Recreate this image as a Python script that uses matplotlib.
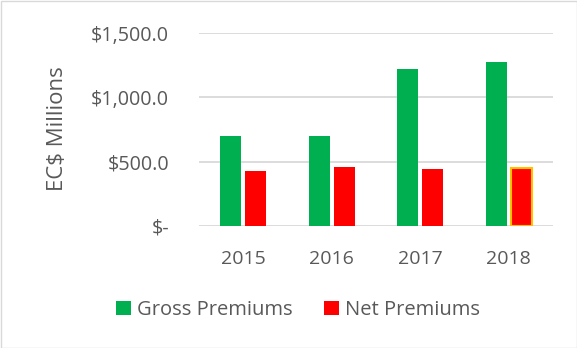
import matplotlib
matplotlib.use("Agg")
import matplotlib.pyplot as plt
from matplotlib.patches import Rectangle
import numpy as np

years = ["2015", "2016", "2017", "2018"]
gross_premiums = [699, 702, 1223, 1274]
net_premiums = [430, 461, 446, 454]
ytick_values = [0, 500, 1000, 1500]
ytick_labels = ["$-", "$500.0", "$1,000.0", "$1,500.0"]

text_color = "#595959"
plt.rcParams["font.family"] = ["Open Sans", "DejaVu Sans"]

fig = plt.figure(figsize=(5.77, 3.48), dpi=100)
ax = fig.add_axes([199 / 577, 1 - 226 / 348, 354 / 577, (226 - 33) / 348])

x = np.arange(len(years))
w = 0.242
gap = 0.04
ax.bar(x - (w + gap) / 2, gross_premiums, width=w, color="#00B050", zorder=3,
       label="Gross Premiums")
net_bars = ax.bar(x + (w + gap) / 2, net_premiums, width=w, color="#FF0000", zorder=3,
                  label="Net Premiums")
net_bars[-1].set_edgecolor("#FFC000")
net_bars[-1].set_linewidth(1.5)

ax.set_xlim(-0.5, len(years) - 0.5)
ax.set_ylim(0, 1500)
ax.set_yticks(ytick_values)
ax.set_yticklabels(ytick_labels)
ax.set_xticks(x)
ax.set_xticklabels(years)
ax.tick_params(axis="y", length=0, labelsize=14.2, colors=text_color, pad=21.5)
ax.tick_params(axis="x", length=0, labelsize=14, colors=text_color, pad=17)
ax.grid(axis="y", color="#D9D9D9", linewidth=1.3, zorder=0)
for s in ax.spines.values():
    s.set_visible(False)
ax.set_ylabel("EC$ Millions", fontsize=16, color=text_color)
ax.yaxis.set_label_coords(68 / 577, 1 - 129 / 348, transform=fig.transFigure)

handles, labels = ax.get_legend_handles_labels()
leg = fig.legend(handles, labels, loc="center", bbox_to_anchor=(298 / 577, 1 - 310 / 348),
                 ncol=2, frameon=False, fontsize=14.5, handlelength=0.75, handleheight=0.75,
                 handletextpad=0.3, columnspacing=1.55)
for t in leg.get_texts():
    t.set_color(text_color)

fig.patches.append(Rectangle((0.5 / 577, 0.5 / 348), 1 - 1 / 577, 1 - 1 / 348,
                             transform=fig.transFigure, fill=False,
                             edgecolor="#D9D9D9", linewidth=1))

fig.savefig("out.png", dpi=100)
